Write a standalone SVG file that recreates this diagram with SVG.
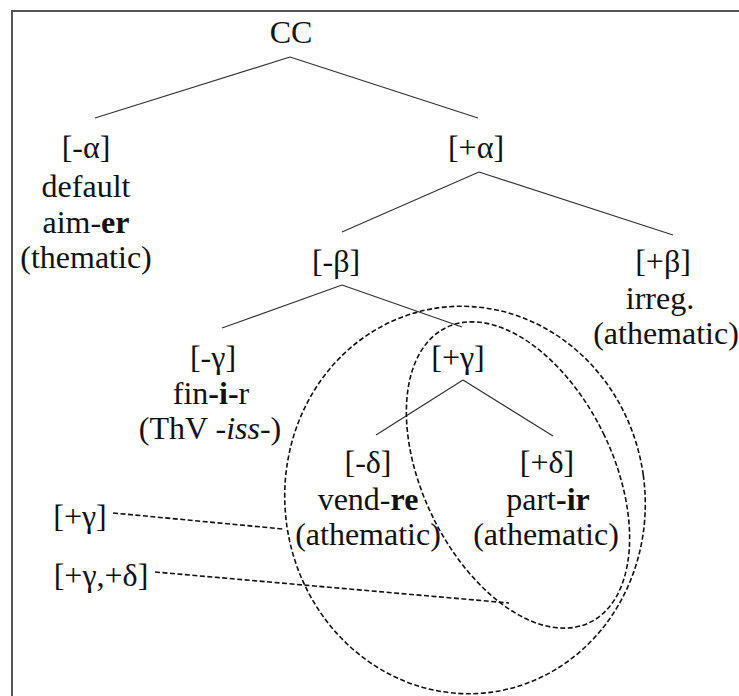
<svg xmlns="http://www.w3.org/2000/svg" width="739" height="696" viewBox="0 0 739 696">
<style>
text{font-family:'Liberation Serif','Times New Roman',serif;font-size:32px;fill:#111;text-anchor:middle}
.b{font-weight:bold}
.i{font-style:italic}
.edge{stroke:#333;stroke-width:1.2;fill:none}
.dash{stroke:#111;stroke-width:1.6;fill:none;stroke-dasharray:5 2.5}
</style>
<rect x="0" y="0" width="739" height="696" fill="#fff"/>
<rect x="12" y="11" width="760" height="720" fill="none" stroke="#555" stroke-width="2"/>
<g id="connectors">
<line class="edge" x1="290" y1="57" x2="95" y2="118"/>
<line class="edge" x1="290" y1="57" x2="478" y2="118"/>
<line class="edge" x1="479" y1="172" x2="342" y2="232"/>
<line class="edge" x1="479" y1="172" x2="673" y2="235"/>
<line class="edge" x1="342" y1="285" x2="222" y2="328"/>
<line class="edge" x1="342" y1="285" x2="462" y2="327"/>
<line class="edge" x1="463" y1="380" x2="376" y2="435"/>
<line class="edge" x1="463" y1="380" x2="553" y2="436"/>
<line class="dash" x1="113" y1="513" x2="283" y2="529"/>
<line class="dash" x1="155" y1="572" x2="509" y2="603"/>
</g>
<g id="sets">
<ellipse class="dash" cx="465" cy="500" rx="180" ry="194" transform="rotate(-8 465 500)"/>
<ellipse class="dash" cx="518" cy="475" rx="95" ry="164" transform="rotate(-26 518 475)"/>
</g>
<g id="n-cc"><text x="291" y="43">CC</text></g>
<g id="n-minus-alpha">
<text x="86" y="158">[-α]</text>
<text x="86" y="197">default</text>
<text x="86" y="233">aim-<tspan class="b">er</tspan></text>
<text x="86" y="268">(thematic)</text>
</g>
<g id="n-plus-alpha"><text x="476" y="158">[+α]</text></g>
<g id="n-minus-beta"><text x="336" y="272">[-β]</text></g>
<g id="n-plus-beta">
<text x="663" y="272">[+β]</text>
<text x="660" y="309">irreg.</text>
<text x="666" y="344">(athematic)</text>
</g>
<g id="n-minus-gamma">
<text x="213" y="368">[-γ]</text>
<text x="211" y="404">fin<tspan class="b">-i-</tspan>r</text>
<text x="210" y="439">(ThV -<tspan class="i">iss</tspan>-)</text>
</g>
<g id="n-plus-gamma"><text x="458" y="368">[+γ]</text></g>
<g id="n-minus-delta">
<text x="368" y="473">[-δ]</text>
<text x="368" y="510">vend-<tspan class="b">re</tspan></text>
<text x="368" y="545">(athematic)</text>
</g>
<g id="n-plus-delta">
<text x="547" y="473">[+δ]</text>
<text x="548" y="510">part<tspan class="b">-ir</tspan></text>
<text x="546" y="545">(athematic)</text>
</g>
<g id="l-gamma"><text x="80" y="527">[+γ]</text></g>
<g id="l-gamma-delta"><text x="101" y="586">[+γ,+δ]</text></g>
</svg>
